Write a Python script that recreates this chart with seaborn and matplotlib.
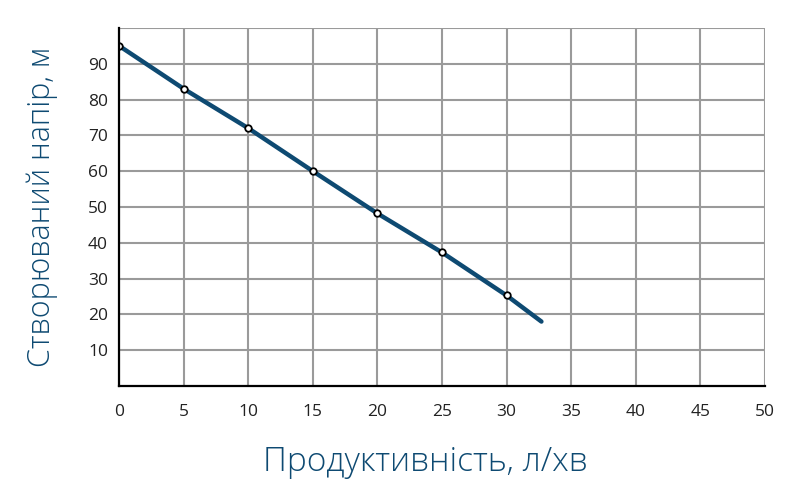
import matplotlib
matplotlib.use('Agg')
import matplotlib.pyplot as plt
import seaborn as sns
import pandas as pd

# Pump curve data
flow = [0, 5, 10, 15, 20, 25, 30, 32.7]
head = [95, 83, 72, 60, 48.2, 37.3, 25.3, 18]
flow_marks = [0, 5, 10, 15, 20, 25, 30]
head_marks = [95, 83, 72, 60, 48.2, 37.3, 25.3]
x_ticks = [0, 5, 10, 15, 20, 25, 30, 35, 40, 45, 50]
y_ticks = [10, 20, 30, 40, 50, 60, 70, 80, 90]

line_color = '#0e4a72'

sns.set_style('white')
plt.rcParams['font.family'] = ['Open Sans', 'DejaVu Sans']

fig = plt.figure(figsize=(8, 5), dpi=100)
ax = fig.add_axes([0.149, 0.228, 0.807, 0.716])

curve = pd.DataFrame({'q': flow, 'h': head})
marks = pd.DataFrame({'q': flow_marks, 'h': head_marks})

sns.lineplot(data=curve, x='q', y='h', ax=ax, color=line_color, lw=3.2, zorder=3)
sns.scatterplot(data=marks, x='q', y='h', ax=ax, color='white', edgecolor='black',
                linewidth=1.3, s=22, zorder=4)

ax.set_xlim(0, 50)
ax.set_ylim(0, 100)
ax.set_xticks(x_ticks)
ax.set_yticks(y_ticks + [100])
ax.set_yticklabels([str(v) for v in y_ticks] + [''])
ax.grid(True, color='#9a9a9a', lw=1.5)
ax.set_axisbelow(True)

for side in ['top', 'right']:
    ax.spines[side].set_visible(False)
for side in ['left', 'bottom']:
    ax.spines[side].set_color('black')
    ax.spines[side].set_linewidth(1.6)
    ax.spines[side].set_zorder(5)

ax.tick_params(axis='both', length=0, labelsize=12.5, colors='#222222')
ax.tick_params(axis='x', pad=13)
ax.tick_params(axis='y', pad=8)

ax.set_xlabel('Продуктивність, л/хв', fontsize=24, color=line_color,
              fontweight='light', labelpad=18)
ax.xaxis.label.set_x(0.474)
ax.set_ylabel('Створюваний напір, м', fontsize=22, color=line_color,
              fontweight='light', labelpad=22)

fig.savefig('out.png', dpi=100)
